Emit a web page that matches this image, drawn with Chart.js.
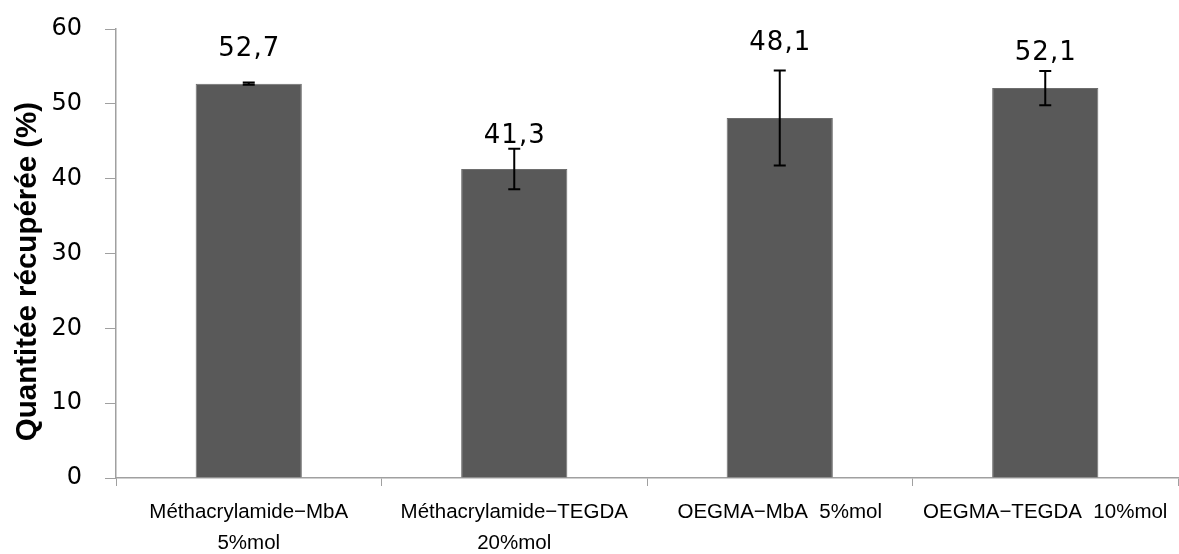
<!DOCTYPE html>
<html>
<head>
<meta charset="utf-8">
<script src="https://cdn.jsdelivr.net/npm/chart.js@4"></script>
<style>
  html, body { margin: 0; padding: 0; background: #fff; }
  #wrap { width: 1179px; height: 554px; }
</style>
</head>
<body>
<div id="wrap"><canvas id="chart"></canvas></div>
<script>
// Chart data
const categories = [
    ['Méthacrylamide\u2212MbA', '5%mol'],
    ['Méthacrylamide\u2212TEGDA', '20%mol'],
    'OEGMA\u2212MbA  5%mol',
    'OEGMA\u2212TEGDA  10%mol'
];
const values = [52.7, 41.3, 48.1, 52.1];
const errors = [0.15, 2.7, 6.35, 2.3];
const yTicks = [0, 10, 20, 30, 40, 50, 60];
const yTitle = 'Quantitée récupérée (%)';

// how far each value label sits above its error bar (px)
const labelLift = [33, 12.5, 27.5, 17.5];

const axisGray = '#a0a0a0';

// Error bars + value labels
const errorBarPlugin = {
    id: 'errorBars',
    afterDatasetsDraw(chart) {
        const ctx = chart.ctx;
        const yScale = chart.scales.y;
        const bars = chart.getDatasetMeta(0).data;
        ctx.save();
        bars.forEach((bar, i) => {
            const top = yScale.getPixelForValue(values[i] + errors[i]);
            const bottom = yScale.getPixelForValue(values[i] - errors[i]);
            ctx.strokeStyle = '#000';
            ctx.lineWidth = 2;
            ctx.beginPath();
            ctx.moveTo(bar.x, top);
            ctx.lineTo(bar.x, bottom);
            ctx.moveTo(bar.x - 6, top);
            ctx.lineTo(bar.x + 6, top);
            ctx.moveTo(bar.x - 6, bottom);
            ctx.lineTo(bar.x + 6, bottom);
            ctx.stroke();

            ctx.fillStyle = '#000';
            ctx.font = '26px "DejaVu Sans"';
            ctx.letterSpacing = '1px';
            ctx.textAlign = 'center';
            ctx.textBaseline = 'middle';
            const text = values[i].toFixed(1).replace('.', ',');
            ctx.fillText(text, bar.x + 0.5, top - labelLift[i]);
        });
        ctx.restore();
    }
};

// Y axis title, sitting a little below the middle like the original
const yTitlePlugin = {
    id: 'yTitle',
    afterDraw(chart) {
        const ctx = chart.ctx;
        const area = chart.chartArea;
        ctx.save();
        ctx.translate(28, (area.top + area.bottom) / 2 + 18);
        ctx.rotate(-Math.PI / 2);
        ctx.font = 'bold 29.5px "Liberation Sans", Arial';
        ctx.fillStyle = '#000';
        ctx.textAlign = 'center';
        ctx.textBaseline = 'middle';
        ctx.fillText(yTitle, 0, 0);
        ctx.restore();
    }
};

new Chart(document.getElementById('chart'), {
    type: 'bar',
    data: {
        labels: categories,
        datasets: [{
            data: values,
            backgroundColor: '#595959',
            borderColor: '#6e6e6e',
            borderWidth: 1,
            barPercentage: 0.8,
            categoryPercentage: 0.5
        }]
    },
    options: {
        responsive: true,
        maintainAspectRatio: false,
        animation: false,
        layout: { padding: { left: 0, top: 29, right: 1, bottom: 0 } },
        plugins: {
            legend: { display: false },
            tooltip: { enabled: false }
        },
        scales: {
            x: {
                afterFit: s => { s.height = 76; },
                grid: {
                    offset: true,
                    drawOnChartArea: false,
                    drawTicks: true,
                    tickLength: 8,
                    tickColor: axisGray
                },
                border: { display: true, color: axisGray, width: 1.5 },
                ticks: {
                    color: '#000',
                    padding: 10.5,
                    maxRotation: 0,
                    autoSkip: false,
                    font: { family: '"Liberation Sans", Arial', size: 20.5, lineHeight: '31px' }
                }
            },
            y: {
                min: 0,
                max: 60,
                afterFit: s => { s.width = 116; s.paddingTop = 0; s.paddingBottom = 0; },
                afterBuildTicks: s => { s.ticks = yTicks.map(v => ({ value: v })); },
                grid: {
                    drawOnChartArea: false,
                    drawTicks: true,
                    tickLength: 11,
                    tickColor: axisGray
                },
                border: { display: true, color: axisGray, width: 1.5 },
                ticks: {
                    color: '#000',
                    padding: 23,
                    font: { family: '"DejaVu Sans"', size: 24 }
                },
                title: { display: false }
            }
        }
    },
    plugins: [errorBarPlugin, yTitlePlugin]
});
</script>
</body>
</html>
